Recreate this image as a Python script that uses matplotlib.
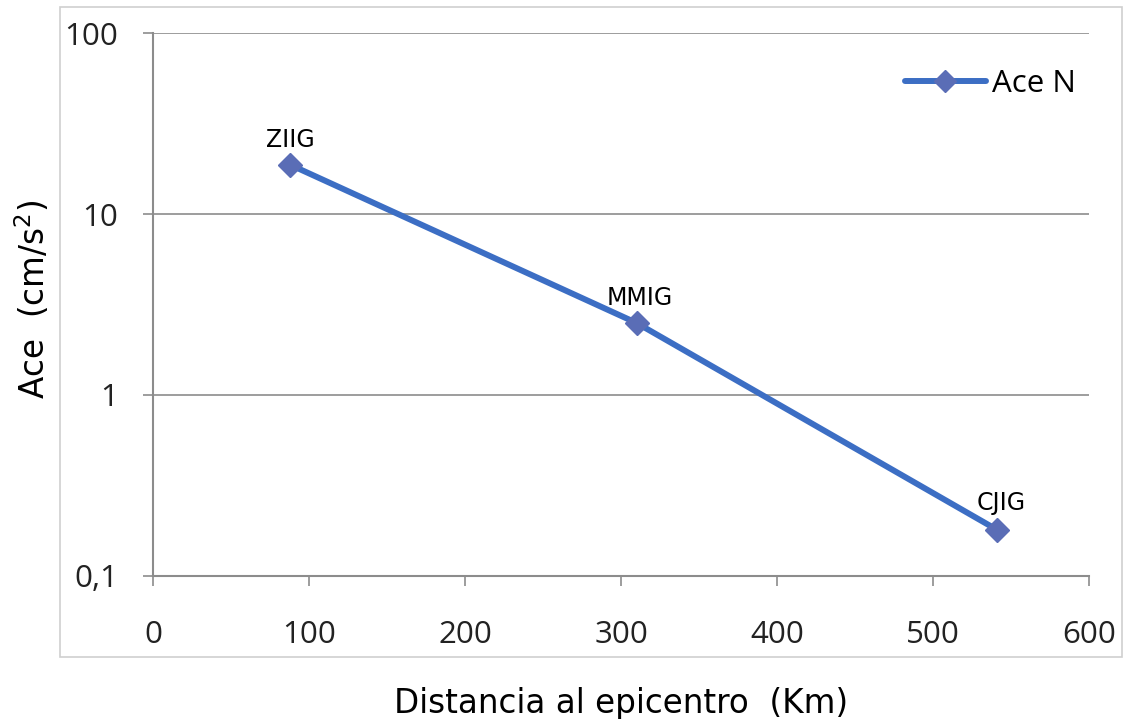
import matplotlib
matplotlib.use("Agg")
import matplotlib.pyplot as plt
from matplotlib.patches import Rectangle
from matplotlib.ticker import FixedLocator, NullLocator

# Station data: epicentral distance (km) and N-component acceleration (cm/s^2)
stations = ["ZIIG", "MMIG", "CJIG"]
distance_km = [88, 310, 541]
accel_n = [18.7, 2.5, 0.18]

x_ticks = [0, 100, 200, 300, 400, 500, 600]
y_ticks = [0.1, 1, 10, 100]
y_tick_labels = ["0,1", "1", "10", "100"]

# label offsets in pixels (dx, dy) and alignment
label_offsets = [(0, 18, "center"), (-30, 18, "left"), (4, 20, "center")]

LINE_BLUE = "#3C6EC4"
MARKER_BLUE = "#5A6DB6"
GRID_GREY = "#8C8C8C"

fig = plt.figure(figsize=(11.25, 7.19), dpi=100)
fig.patch.set_facecolor("white")

# light chart-area border
fig.add_artist(Rectangle((0.0533, 0.0862), 0.9437, 0.9038, transform=fig.transFigure,
                         fill=False, edgecolor="#CFCFCF", linewidth=1.2))

ax = fig.add_axes([0.136, 0.199, 0.832, 0.755])
ax.set_yscale("log")
ax.set_xlim(0, 600)
ax.set_ylim(0.1, 100)

ax.plot(distance_km, accel_n, color=LINE_BLUE, linewidth=4.3, marker="D",
        markersize=12.5, markerfacecolor=MARKER_BLUE, markeredgecolor=MARKER_BLUE,
        label="Ace N", zorder=3, solid_capstyle="round")

for name, x, y, (dx, dy, ha) in zip(stations, distance_km, accel_n, label_offsets):
    ax.annotate(name, (x, y), xytext=(dx, dy), textcoords="offset pixels",
                ha=ha, va="baseline", fontsize=17, family="DejaVu Sans",
                color="black", zorder=4)

ax.yaxis.set_major_locator(FixedLocator(y_ticks))
ax.yaxis.set_minor_locator(NullLocator())
ax.set_yticklabels(y_tick_labels)
ax.set_xticks(x_ticks)

ax.grid(axis="y", which="major", color=GRID_GREY, linewidth=1.2)
ax.set_axisbelow(True)

for side in ["top", "right"]:
    ax.spines[side].set_visible(False)
for side in ["left", "bottom"]:
    ax.spines[side].set_color(GRID_GREY)
    ax.spines[side].set_linewidth(1.5)

ax.tick_params(axis="both", which="major", direction="out", length=7,
               width=1.2, color=GRID_GREY, labelsize=22.5, labelcolor="#222222")
ax.tick_params(axis="y", pad=18)
ax.tick_params(axis="x", pad=25)
for lbl in ax.get_xticklabels() + ax.get_yticklabels():
    lbl.set_family("Open Sans")

ax.set_xlabel("Distancia al epicentro  (Km)", fontsize=23.5, family="DejaVu Sans")
ax.xaxis.set_label_coords(0.5, -0.205)
ax.set_ylabel("Ace  (cm/s$^{2}$)", fontsize=23.5, family="DejaVu Sans")
ax.yaxis.set_label_coords(-0.108, 0.51)

leg = ax.legend(loc="center left", bbox_to_anchor=(0.803, 0.906), frameon=False,
                prop={"family": "Open Sans", "size": 22.5}, handlelength=2.6,
                handletextpad=0.2, borderpad=0, borderaxespad=0, markerscale=0.9)

fig.savefig("out.png", dpi=100, facecolor="white")
